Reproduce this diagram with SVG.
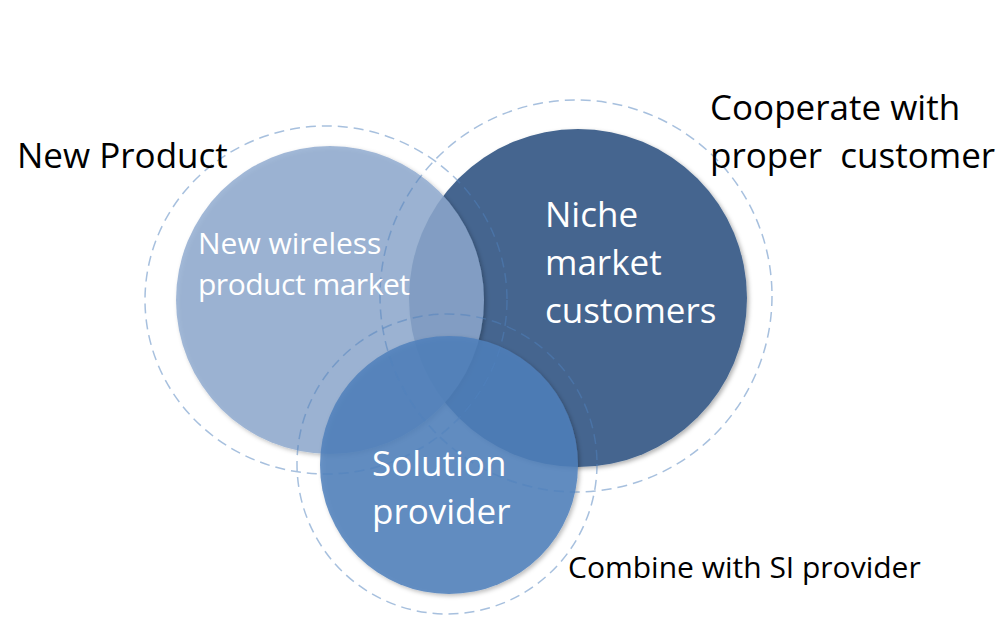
<svg xmlns="http://www.w3.org/2000/svg" width="1007" height="635" viewBox="0 0 1007 635">
<defs>
<style>
.lbl{font-family:"Open Sans","Noto Sans","Liberation Sans",sans-serif;font-size:35px;fill:#000}
.in{font-family:"Open Sans","Noto Sans","Liberation Sans",sans-serif;fill:#fff}
.ring{fill:none;stroke:#4f81bd;stroke-opacity:0.5;stroke-width:1.5;stroke-dasharray:10 6}
</style>
<filter id="sh" x="-10%" y="-10%" width="125%" height="125%">
<feDropShadow dx="2" dy="2" stdDeviation="2" flood-color="#000" flood-opacity="0.3"/>
</filter>
</defs>
<rect width="1007" height="635" fill="#fff"/>
<g id="node-niche">
<circle cx="578" cy="298" r="169" fill="#44658f" filter="url(#sh)"/>
</g>
<g id="node-wireless">
<circle cx="330" cy="300" r="154" fill="#8faacf" fill-opacity="0.82" filter="url(#sh)"/>
</g>
<g id="node-solution">
<circle cx="449" cy="465" r="129" fill="#4f80bc" fill-opacity="0.85" filter="url(#sh)"/>
</g>
<g id="rings">
<ellipse class="ring" cx="326" cy="300" rx="181" ry="174"/>
<circle class="ring" cx="576" cy="296" r="196"/>
<circle class="ring" cx="447" cy="464" r="150"/>
</g>
<g id="texts-inner">
<text class="in" font-size="30" x="198" y="254">New wireless</text>
<text class="in" font-size="30" x="198" y="295" textLength="212" lengthAdjust="spacing">product market</text>
<text class="in" font-size="35" x="545" y="227">Niche</text>
<text class="in" font-size="35" x="545" y="275">market</text>
<text class="in" font-size="35" x="545" y="323">customers</text>
<text class="in" font-size="35" x="372" y="476">Solution</text>
<text class="in" font-size="35" x="372" y="524">provider</text>
</g>
<g id="labels">
<text class="lbl" x="17" y="168">New Product</text>
<text class="lbl" x="710" y="120">Cooperate with</text>
<text class="lbl" x="710" y="168" xml:space="preserve">proper  customer</text>
<text class="lbl" x="568" y="578" style="font-size:30px">Combine with SI provider</text>
</g>
</svg>
